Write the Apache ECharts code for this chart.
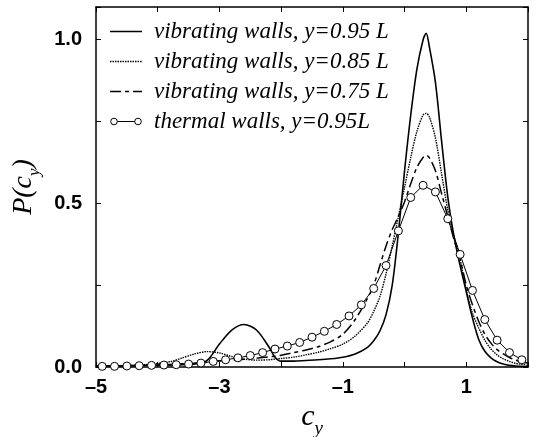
<!DOCTYPE html>
<html><head><meta charset="utf-8">
<script src="https://cdn.jsdelivr.net/npm/echarts@6/dist/echarts.min.js"></script>
<style>html,body{margin:0;padding:0;background:#fff}#c{width:537px;height:437px}</style>
</head><body><div id="c"></div>
<script>
// Shared abscissa grid for the vibrating-wall curves
const cyGrid = [-5.0,-4.6,-4.2,-3.8,-3.6,-3.4,-3.2,-3.0,-2.8,-2.6,-2.4,-2.2,-2.1,-2.0,-1.8,-1.6,-1.4,-1.2,-1.0,-0.8,-0.6,-0.5,-0.4,-0.3,-0.2,-0.1,0.0,0.1,0.2,0.3,0.35,0.4,0.5,0.6,0.7,0.8,0.9,1.0,1.1,1.2,1.3,1.4,1.5,1.6,1.7,1.8,1.9,2.0];
const vib095 = [0.003,0.004,0.005,0.006,0.007,0.009,0.02,0.07,0.113,0.130,0.113,0.062,0.03,0.018,0.018,0.020,0.022,0.025,0.03,0.04,0.06,0.08,0.11,0.16,0.25,0.41,0.60,0.77,0.91,1.00,1.02,0.98,0.87,0.69,0.52,0.40,0.31,0.23,0.15,0.085,0.048,0.028,0.016,0.009,0.005,0.003,0.002,0.001];
const vib085 = [0.002,0.004,0.007,0.016,0.028,0.040,0.047,0.043,0.032,0.024,0.021,0.022,0.024,0.026,0.030,0.037,0.045,0.056,0.07,0.095,0.135,0.17,0.215,0.285,0.37,0.46,0.55,0.64,0.72,0.77,0.775,0.765,0.70,0.59,0.48,0.40,0.33,0.235,0.165,0.12,0.082,0.055,0.037,0.025,0.017,0.011,0.008,0.005];
const vib075 = [0.002,0.003,0.005,0.008,0.010,0.012,0.015,0.018,0.021,0.024,0.027,0.031,0.033,0.036,0.044,0.052,0.062,0.077,0.10,0.145,0.21,0.25,0.31,0.37,0.42,0.46,0.505,0.56,0.61,0.64,0.647,0.64,0.60,0.53,0.46,0.39,0.33,0.25,0.19,0.14,0.10,0.073,0.053,0.04,0.029,0.021,0.016,0.012];
// Thermal walls (circles)
const cyThermal = [-4.9,-4.7,-4.5,-4.3,-4.1,-3.9,-3.7,-3.5,-3.3,-3.1,-2.9,-2.7,-2.5,-2.3,-2.1,-1.9,-1.7,-1.5,-1.3,-1.1,-0.9,-0.7,-0.5,-0.3,-0.1,0.1,0.3,0.5,0.7,0.9,1.1,1.3,1.5,1.7,1.9];
const thermal095 = [0.002,0.002,0.003,0.004,0.005,0.006,0.007,0.009,0.012,0.017,0.022,0.028,0.035,0.044,0.055,0.064,0.075,0.091,0.109,0.130,0.156,0.190,0.240,0.310,0.416,0.518,0.555,0.535,0.453,0.344,0.234,0.145,0.082,0.044,0.022];
const seriesNames = ['vibrating walls, y=0.95 L','vibrating walls, y=0.85 L','vibrating walls, y=0.75 L','thermal walls, y=0.95L'];
const xTickLabels = [-5,-3,-1,1];
const yTickLabels = [0.0,0.5,1.0];

const pair = (xs, ys) => xs.map((x, i) => [x, ys[i]]);
const svgIcon = body => 'image://data:image/svg+xml;utf8,' + encodeURIComponent(
 '<svg xmlns="http://www.w3.org/2000/svg" width="32" height="10" viewBox="0 0 32 10">' + body + '</svg>');
const icons = [
  svgIcon('<line x1="0" y1="5" x2="32" y2="5" stroke="black" stroke-width="1.6"/>'),
  svgIcon('<line x1="0" y1="5" x2="32" y2="5" stroke="black" stroke-width="1.4" stroke-dasharray="1.5,1"/>'),
  svgIcon('<line x1="0" y1="5" x2="32" y2="5" stroke="black" stroke-width="1.5" stroke-dasharray="11,4,4,4"/>'),
  svgIcon('<line x1="4" y1="5" x2="28" y2="5" stroke="black" stroke-width="1"/><circle cx="4" cy="5" r="3.3" fill="white" stroke="black" stroke-width="1"/><circle cx="28" cy="5" r="3.3" fill="white" stroke="black" stroke-width="1"/>')
];

const labelFont = {fontFamily:'Liberation Sans, Arial, sans-serif', fontSize:20, fontWeight:'bold', color:'#000'};
const serif = 'Liberation Serif, Times New Roman, serif';
const chart = echarts.init(document.getElementById('c'), null, {renderer:'canvas'});
const frame = {show:true, onZero:false, lineStyle:{color:'#000', width:1.5}};
const tick = {show:true, inside:true, length:5, lineStyle:{color:'#000', width:1}};
chart.setOption({
  animation:false,
  backgroundColor:'#fff',
  grid:{left:96, right:9, top:7, bottom:70, outerBoundsMode:'none', containLabel:false},
  legend:{
    orient:'vertical', left:105, top:15, itemWidth:32, itemHeight:10, itemGap:7,
    textStyle:{fontFamily:serif, fontStyle:'italic', fontSize:23, lineHeight:23, color:'#000', padding:[0,0,0,7]},
    data:seriesNames.map((n, i) => ({name:n, icon:icons[i]}))
  },
  xAxis:[{
    type:'value', min:-5, max:2, interval:1, position:'bottom',
    axisLine:frame, axisTick:tick, splitLine:{show:false},
    axisLabel:Object.assign({margin:10, formatter:v => xTickLabels.includes(v) ? String(v).replace('-', '\u2013') : ''}, labelFont),
    name:'{c|c}{s|y}', nameLocation:'middle', nameGap:33,
    nameTextStyle:{rich:{
      c:{fontFamily:serif, fontStyle:'italic', fontSize:30, color:'#000', verticalAlign:'bottom', padding:[0,0,7,0]},
      s:{fontFamily:serif, fontStyle:'italic', fontSize:19, color:'#000', verticalAlign:'bottom'}
    }}
  },{
    type:'value', min:-5, max:2, interval:1, position:'top',
    axisLine:frame, axisTick:tick, axisLabel:{show:false}, splitLine:{show:false}
  }],
  yAxis:[{
    type:'value', min:0, max:1.1, interval:0.25, position:'left',
    axisLine:frame, axisTick:tick, splitLine:{show:false},
    axisLabel:Object.assign({margin:14, formatter:v => yTickLabels.some(t => Math.abs(t - v) < 1e-6) ? v.toFixed(1) : ''}, labelFont),
    name:'{p|P(c}{s|y}{p|)}', nameLocation:'middle', nameGap:50, nameRotate:90,
    nameTextStyle:{rich:{
      p:{fontFamily:serif, fontStyle:'italic', fontSize:28, color:'#000', verticalAlign:'bottom', padding:[0,0,6,0]},
      s:{fontFamily:serif, fontStyle:'italic', fontSize:17, color:'#000', verticalAlign:'bottom'}
    }}
  },{
    type:'value', min:0, max:1.1, interval:0.25, position:'right',
    axisLine:frame, axisTick:tick, axisLabel:{show:false}, splitLine:{show:false}
  }],
  series:[
    {name:seriesNames[0], type:'line', data:pair(cyGrid, vib095), symbol:'none', smooth:0.3, lineStyle:{color:'#000', width:1.6, type:'solid'}, itemStyle:{color:'#000'}},
    {name:seriesNames[1], type:'line', data:pair(cyGrid, vib085), symbol:'none', smooth:0.3, lineStyle:{color:'#000', width:1.4, type:[1.5,1]}, itemStyle:{color:'#000'}},
    {name:seriesNames[2], type:'line', data:pair(cyGrid, vib075), symbol:'none', smooth:0.3, lineStyle:{color:'#000', width:1.5, type:[11,4,4,4]}, itemStyle:{color:'#000'}},
    {name:seriesNames[3], type:'line', data:pair(cyThermal, thermal095), symbol:'circle', symbolSize:8, lineStyle:{color:'#000', width:1}, itemStyle:{color:'#fff', borderColor:'#000', borderWidth:1}}
  ]
});
</script></body></html>
